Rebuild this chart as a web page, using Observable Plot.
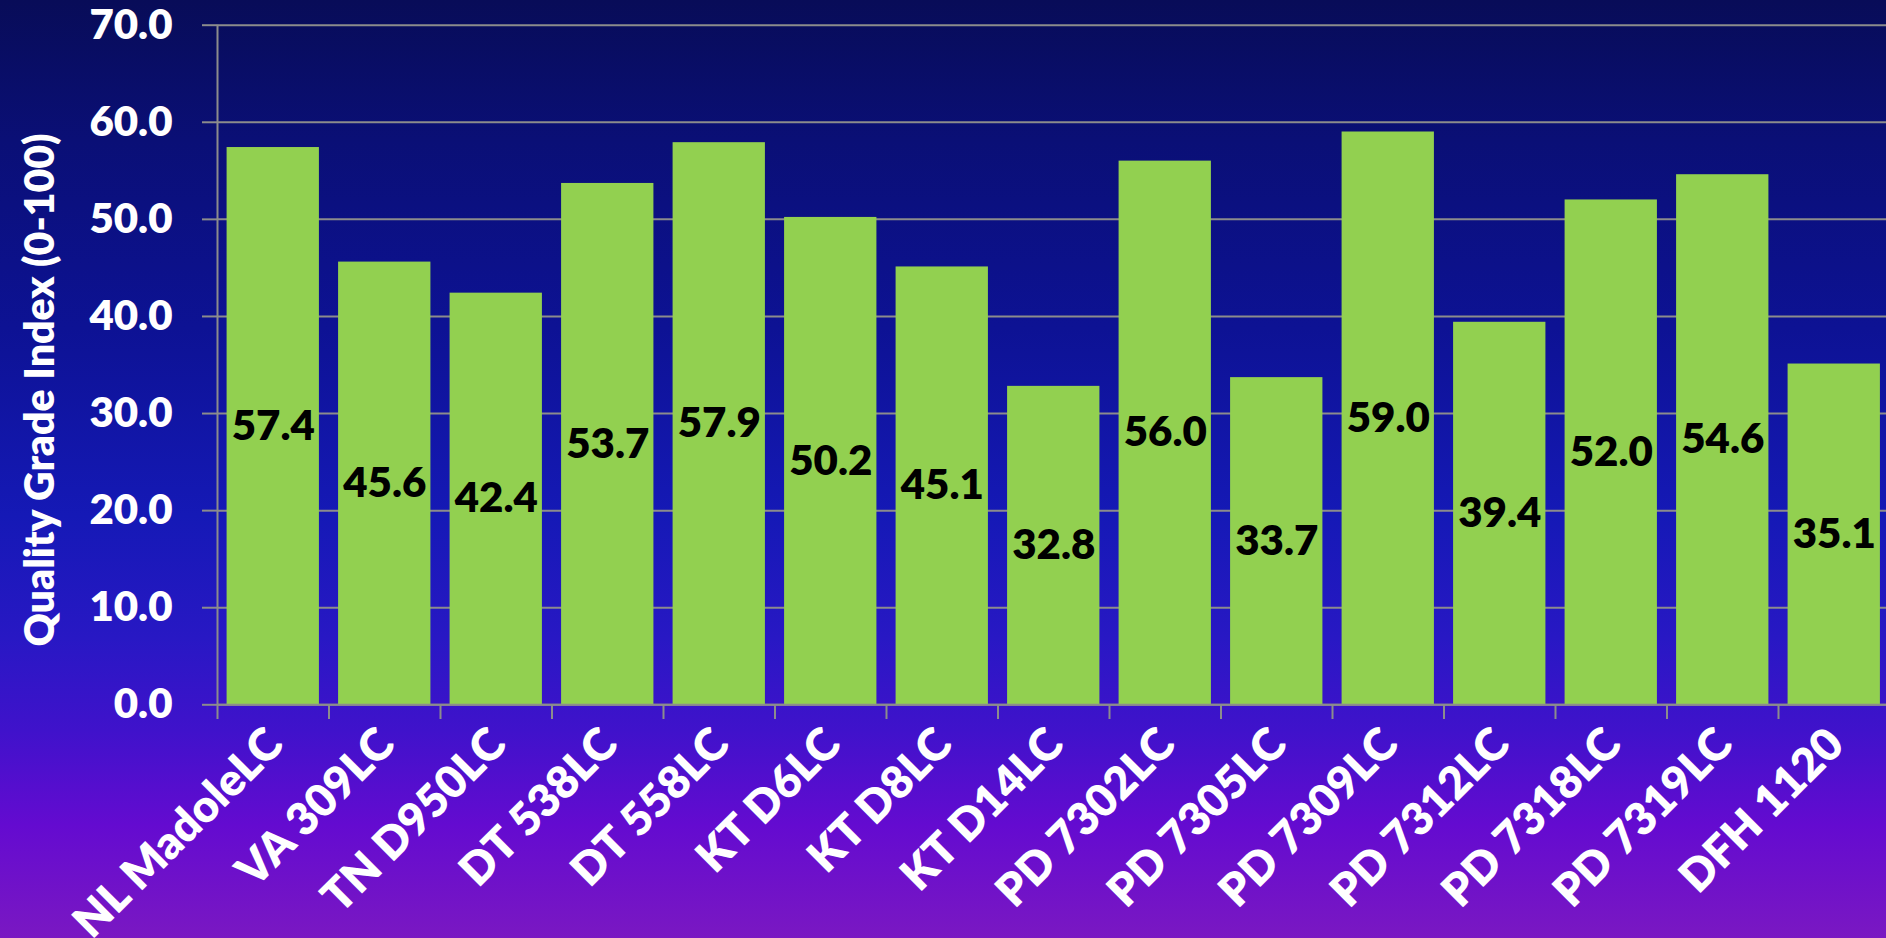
<!DOCTYPE html>
<html><head><meta charset="utf-8">
<script src="https://cdn.jsdelivr.net/npm/d3@7"></script>
<script src="https://cdn.jsdelivr.net/npm/@observablehq/plot@0.6"></script>
<style>
html,body{margin:0;padding:0;width:1886px;height:938px;overflow:hidden;}
body{background: linear-gradient(to bottom, #080c58 0%, #0a0f76 15%, #0d1294 35%, #1519b6 55%, #2818c4 68%, #4012cb 78%, #640bd0 88%, #7a18c2 100%);}
svg{display:block}
</style></head><body><div id="chart"></div>
<script>
const names = ["NL MadoleLC","VA 309LC","TN D950LC","DT 538LC","DT 558LC","KT D6LC","KT D8LC","KT D14LC","PD 7302LC","PD 7305LC","PD 7309LC","PD 7312LC","PD 7318LC","PD 7319LC","DFH 1120"];
const values = [57.4,45.6,42.4,53.7,57.9,50.2,45.1,32.8,56.0,33.7,59.0,39.4,52.0,54.6,35.1];
const yTicks = [0,10,20,30,40,50,60,70];
const yTitle = "Quality Grade Index (0-100)";

const data = names.map((name, i) => ({name, value: values[i]}));
const xRange = [217, 1889.5];
const step = (xRange[1] - xRange[0]) / names.length;
const font = "Lato, 'Open Sans', sans-serif";
const gray = "#8c8c8c";
const W = 800;

const chart = Plot.plot({
  width: 1886, height: 938,
  marginLeft: 217, marginRight: 0, marginTop: 25, marginBottom: 234,
  style: {background: "transparent", fontFamily: font, fontWeight: W, color: "white"},
  x: {domain: names, range: xRange, paddingInner: 0.172, paddingOuter: 0.086, round: false, axis: null},
  y: {domain: [0, 70], range: [704.3, 24.7], axis: null},
  marks: [
    Plot.gridY(yTicks, {stroke: gray, strokeOpacity: 1, strokeWidth: 2}),
    Plot.barY(data, {x: "name", y: "value", fill: "#92D050"}),
    Plot.ruleY([0], {stroke: gray, strokeWidth: 2}),
    Plot.ruleX([names[0]], {x: d => d, y1: 0, y2: 70, dx: -step / 2, stroke: gray, strokeWidth: 2}),
    Plot.axisY(yTicks, {tickSize: 15, tickPadding: 30, tickFormat: d => d.toFixed(1), fontSize: 42, fill: "white", stroke: gray, strokeWidth: 2, label: null}),
    Plot.axisX(names, {tickSize: 15, tickFormat: () => "", dx: -step / 2, stroke: gray, strokeWidth: 2, label: null}),
    Plot.text(data, {x: "name", y: 0, text: "name", rotate: -45, textAnchor: "end", lineAnchor: "middle", dy: 32, dx: 2, fill: "white", fontSize: 45, fontWeight: W}),
    Plot.text(data, {x: "name", y: d => d.value / 2, text: d => d.value.toFixed(1), fill: "black", fontSize: 42, fontWeight: W}),
    Plot.text([yTitle], {frameAnchor: "left", textAnchor: "middle", lineAnchor: "middle", rotate: -90, dx: -177, dy: 25, fill: "white", fontSize: 41, fontWeight: W})
  ]
});
document.getElementById("chart").appendChild(chart);
</script>
</body></html>
